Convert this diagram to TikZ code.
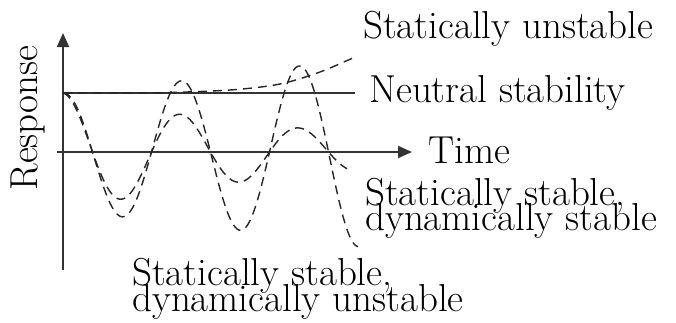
\documentclass[tikz,border=0pt]{standalone}
\usetikzlibrary{arrows.meta}
\begin{document}
\begin{tikzpicture}[x=1pt,y=-1pt,
  axis/.style={draw=black!80, line width=1.8pt},
  axisarrow/.style={-{Triangle[length=14pt,width=12pt]}},
  curve/.style={draw=black!85, line width=1.4pt, dash pattern=on 9pt off 6pt},
  lbl/.style={anchor=base west, inner sep=0pt, font=\fontsize{39}{30}\selectfont}]
\useasboundingbox (0,0) rectangle (676,322);
\coordinate (yb) at (63,270);
\coordinate (yt) at (63,33);
\coordinate (tl) at (57,152);
\coordinate (tr) at (412,152);
\coordinate (n0) at (63,93);
\coordinate (n1) at (355,93);
\draw[axis, axisarrow] (yb) -- (yt);
\draw[axis, axisarrow] (tl) -- (tr);
\draw[axis] (n0) -- (n1);
% statically unstable
\draw[curve] plot[smooth] coordinates {(63,93) (150,93) (230,90) (280,84) (320,72) (355,57)};
% statically stable, dynamically stable (damped)
\draw[curve] plot[domain=0:284, samples=120, smooth] ({63+\x}, {152 - 59*exp(-0.0038*\x)*cos(3.0508*\x)});
% statically stable, dynamically unstable (growing)
\draw[curve] plot[domain=0:295, samples=120, smooth] ({63+\x}, {152 - 59*exp(0.0016*\x)*cos(3.0508*\x)});
\node[lbl] (unst) at (363,38) {Statically unstable};
\node[lbl] (neut) at (369,102) {Neutral stability};
\node[lbl] (time) at (428,163) {Time};
\node[lbl] (ssds1) at (365,205) {Statically stable,};
\node[lbl] (ssds2) at (365,230) {dynamically stable};
\node[lbl] (ssdu1) at (132,285) {Statically stable,};
\node[lbl] (ssdu2) at (132,311) {dynamically unstable};
\node[anchor=base, rotate=90, inner sep=0pt, font=\fontsize{39}{30}\selectfont] (resp) at (37,118) {Response};
\end{tikzpicture}
\end{document}
